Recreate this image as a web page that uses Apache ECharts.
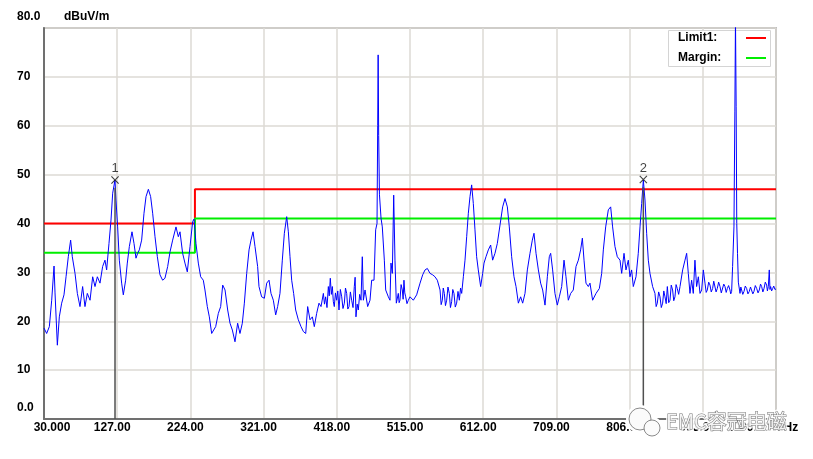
<!DOCTYPE html>
<html>
<head>
<meta charset="utf-8">
<script src="https://cdn.jsdelivr.net/npm/echarts@6/dist/echarts.min.js"></script>
<style>
html,body{margin:0;padding:0;background:#fff;}
#c{width:813px;height:459px;}
</style>
</head>
<body>
<div id="c"></div>
<script>
// ---- data ----
const xTickLabels = ['30.000','127.00','224.00','321.00','418.00','515.00','612.00','709.00','806.00','903.00','1000.00 MHz'];
const yTickLabels = ['0.0','10','20','30','40','50','60','70','80.0'];

const limitFreq = [30, 230, 230, 1000];
const limitLevel = [40, 40, 47, 47];
const marginLevel = [34, 34, 41, 41];
const legendNames = ['Limit1:', 'Margin:'];

const markerNames = ['1', '2'];
const markerFreq = [124.1, 824.2];
const markerLevel = [48.9, 49.0];

// measured trace: [frequency MHz, level dBuV/m]
const trace = [
[30.0,18.6],[33.5,17.5],[37.1,18.9],[40.2,24.3],[43.3,31.3],[44.6,25.8],[47.7,15.1],[50.3,20.9],[53.4,23.7],[56.5,25.4],
[59.2,29.1],[62.2,33.2],[65.3,36.6],[67.5,33.2],[71.1,29.8],[74.2,25.7],[77.7,23.0],[81.2,27.1],[84.3,23.0],[87.4,25.7],
[91.0,24.3],[94.5,29.1],[97.6,27.1],[100.7,29.1],[104.2,27.8],[107.7,31.2],[110.8,32.5],[113.0,30.5],[116.1,35.9],[118.8,40.7],
[121.0,46.2],[124.1,48.9],[125.4,44.8],[127.6,39.3],[129.8,32.5],[132.9,27.8],[135.1,25.4],[138.2,28.4],[140.4,31.9],[143.1,35.3],
[146.6,38.3],[149.3,35.9],[151.9,32.9],[154.1,33.9],[156.3,34.6],[159.4,36.6],[162.5,42.1],[165.2,45.5],[168.3,47.0],[171.3,45.5],
[174.0,42.1],[177.1,37.3],[180.2,33.2],[183.7,29.5],[187.2,28.4],[190.3,28.8],[193.9,31.2],[197.0,34.2],[200.5,36.6],[204.9,39.3],
[208.0,37.3],[210.2,38.3],[213.7,33.9],[216.8,31.9],[219.9,30.1],[223.5,35.3],[227.0,40.4],[228.8,40.9],[231.4,35.9],[234.5,31.9],
[237.6,29.1],[241.1,28.4],[243.3,26.4],[246.4,23.0],[249.1,20.9],[252.2,17.5],[254.4,17.2],[257.5,18.9],[261.0,21.6],[264.1,23.0],
[266.8,27.4],[269.9,26.4],[273.4,22.3],[276.5,19.6],[279.6,18.2],[283.1,15.8],[286.6,19.6],[289.7,17.5],[292.8,19.6],[295.5,23.7],
[298.6,29.8],[301.7,34.6],[304.3,36.6],[307.0,38.3],[309.6,35.3],[313.1,31.2],[314.9,27.1],[318.4,25.0],[322.0,24.7],[325.1,27.8],
[328.2,28.4],[330.8,25.7],[333.9,24.3],[337.0,21.3],[339.6,23.0],[342.7,25.7],[345.8,32.5],[348.5,38.0],[351.6,41.4],[353.8,38.3],
[356.0,33.2],[358.2,28.4],[360.8,25.7],[363.5,22.3],[367.0,20.3],[370.6,18.9],[373.7,17.9],[376.8,17.5],[379.4,23.0],[382.5,20.3],
[385.6,20.9],[388.2,18.9],[391.3,21.6],[394.4,23.7],[397.1,23.0],[400.2,25.7],[401.7,23.5],[403.2,25.0],[405.0,22.8],[406.8,27.1],
[408.0,25.2],[409.4,28.8],[410.8,25.5],[412.1,27.1],[413.4,24.0],[414.7,23.0],[416.2,25.8],[417.8,24.3],[419.3,26.2],[420.9,22.3],
[422.7,26.5],[424.5,25.0],[426.2,22.6],[428.0,23.7],[429.5,26.8],[431.1,25.7],[432.6,22.5],[434.2,23.0],[436.0,26.0],[437.7,24.3],
[439.5,22.8],[441.2,27.1],[442.3,29.0],[443.4,20.9],[445.0,23.5],[446.5,22.3],[448.3,25.5],[450.1,24.3],[451.8,33.2],[453.2,24.3],
[455.4,26.4],[458.9,23.0],[462.0,24.3],[464.2,28.4],[467.3,28.4],[469.5,38.7],[471.3,40.0],[472.2,60.0],[472.8,74.5],[473.5,58.0],
[474.5,46.0],[476.6,41.1],[478.3,39.3],[481.0,32.5],[482.8,26.4],[486.3,25.0],[488.5,24.3],[489.8,31.9],[491.6,29.8],[493.4,45.8],
[495.1,32.5],[496.9,23.7],[499.5,25.7],[500.6,23.8],[501.7,24.3],[503.2,27.5],[504.8,26.4],[505.9,24.5],[507.0,28.4],[508.1,25.8],
[509.3,25.0],[511.0,23.6],[512.8,24.3],[515.0,25.0],[519.4,24.3],[523.8,25.4],[528.3,27.8],[531.8,29.5],[534.9,30.5],[538.0,30.8],
[541.5,29.8],[545.0,29.5],[548.1,29.1],[551.2,28.4],[554.8,26.4],[556.3,23.4],[557.8,24.3],[559.1,26.8],[560.5,25.7],[562.0,23.2],
[563.6,24.3],[565.3,27.0],[567.1,25.7],[568.6,22.8],[570.2,24.0],[571.7,26.5],[573.3,25.7],[575.0,22.9],[576.8,23.7],[578.6,26.1],
[580.4,24.3],[582.0,26.8],[583.5,25.7],[585.7,29.1],[587.9,32.5],[590.1,37.3],[592.3,42.1],[594.5,45.5],[596.7,47.9],[598.9,44.1],
[601.1,38.7],[603.3,33.2],[605.5,30.5],[608.6,27.1],[611.3,29.8],[613.1,31.9],[615.7,33.2],[618.8,34.6],[621.9,35.6],[624.5,32.5],
[627.6,33.9],[630.7,35.9],[634.3,39.7],[637.8,43.4],[640.9,45.1],[644.0,43.4],[646.6,39.3],[649.7,33.2],[652.8,29.1],[655.5,27.1],
[658.6,23.7],[661.6,25.0],[664.3,23.7],[667.4,25.7],[670.5,30.5],[674.0,33.9],[677.1,36.6],[679.3,38.0],[682.0,33.9],[685.1,30.5],
[688.1,27.8],[690.8,26.4],[693.9,23.3],[697.0,29.1],[699.6,33.2],[701.4,33.9],[704.0,30.5],[707.1,25.7],[710.2,23.3],[712.9,25.0],
[716.0,27.1],[719.1,32.5],[721.7,29.1],[724.8,24.3],[727.9,25.7],[731.4,26.4],[735.0,31.2],[738.1,32.5],[741.1,34.6],[743.4,37.0],
[745.6,32.5],[748.2,27.8],[751.3,27.1],[753.5,27.8],[757.0,24.3],[761.5,25.7],[765.9,26.7],[769.0,29.8],[771.2,34.6],[774.3,39.3],
[777.8,42.8],[780.9,43.4],[783.5,39.3],[786.6,35.3],[789.7,33.2],[793.3,32.5],[795.5,29.8],[798.6,33.9],[801.2,30.5],[804.3,32.5],
[806.5,29.1],[808.7,30.5],[810.9,27.1],[814.5,29.1],[817.5,33.9],[819.8,39.3],[822.0,44.1],[824.2,48.9],[826.4,44.8],[828.6,38.0],
[830.8,32.5],[833.0,29.8],[836.5,27.1],[839.6,25.7],[841.2,23.0],[842.7,23.7],[844.5,26.0],[846.3,25.0],[848.0,22.8],[849.8,23.7],
[851.3,26.2],[852.9,25.0],[854.5,23.6],[856.0,27.1],[857.8,23.8],[859.5,24.3],[861.2,27.4],[863.0,26.4],[864.5,24.2],[866.1,25.0],
[867.6,27.5],[869.2,26.7],[871.0,25.5],[872.8,27.1],[876.3,30.5],[879.4,32.5],[881.6,33.9],[883.8,29.8],[886.0,25.7],[888.2,28.4],
[890.4,25.7],[892.6,32.5],[894.8,27.1],[897.1,29.1],[899.3,25.7],[901.5,26.4],[903.7,30.5],[905.9,27.8],[907.5,25.9],[909.0,26.4],
[910.8,28.0],[912.5,27.4],[914.2,26.0],[916.0,26.7],[917.5,28.2],[919.1,27.8],[920.6,26.0],[922.2,26.7],[924.0,28.0],[925.8,27.1],
[927.5,25.8],[929.3,26.1],[930.8,27.6],[932.4,27.1],[934.0,25.9],[935.5,26.7],[937.2,27.3],[939.0,26.4],[940.0,25.6],[941.2,26.1],
[942.5,31.2],[944.3,39.3],[945.5,63.0],[946.3,82.0],[947.2,64.0],[948.0,40.0],[949.0,33.9],[950.1,28.0],[952.3,25.7],[953.4,27.0],
[954.5,26.7],[956.0,25.5],[957.6,26.1],[959.3,27.2],[961.1,26.7],[962.8,25.6],[964.6,26.1],[966.2,27.0],[967.7,26.7],[969.3,25.6],
[970.8,26.1],[972.6,27.3],[974.4,26.7],[976.2,25.8],[977.9,26.4],[979.5,27.6],[981.0,27.1],[982.6,26.0],[984.1,26.7],[985.8,28.0],
[987.6,27.4],[988.6,26.2],[989.8,27.1],[991.1,30.5],[992.0,26.5],[992.9,27.1],[994.2,26.2],[995.6,26.7],[997.0,27.2],[998.6,26.5],
[1000.0,26.6]
];

// ---- chart ----
const FONT = '"Liberation Sans", Arial, sans-serif';
const chart = echarts.init(document.getElementById('c'), null, {renderer: 'canvas'});
const zip = (xs, ys) => xs.map((x, i) => [x, ys[i]]);
const RED = '#ff0000', GREEN = '#00ee00';

const series = [
  {name: legendNames[0], type: 'line', data: zip(limitFreq, limitLevel), symbol: 'none', z: 2,
   lineStyle: {color: RED, width: 2}, itemStyle: {color: RED}},
  {name: legendNames[1], type: 'line', data: zip(limitFreq, marginLevel), symbol: 'none', z: 2,
   lineStyle: {color: GREEN, width: 2}, itemStyle: {color: GREEN}},
  {name: 'Trace', type: 'line', data: trace, symbol: 'none', z: 4, clip: true,
   lineStyle: {color: '#0000ff', width: 1}, itemStyle: {color: '#0000ff'}}
];
markerFreq.forEach((f, i) => {
  series.push({name: 'mline' + i, type: 'line', data: [[f, 0], [f, markerLevel[i] - 1.6]],
    symbol: 'none', z: 5, lineStyle: {color: '#505050', width: 1.5}});
});
series.push({
  name: 'Markers', type: 'scatter', z: 6, data: zip(markerFreq, markerLevel),
  symbol: 'path://M0,1 L1,0 L5,4 L9,0 L10,1 L6,5 L10,9 L9,10 L5,6 L1,10 L0,9 L4,5 Z',
  symbolSize: 8, itemStyle: {color: '#111'},
  label: {show: true, position: 'top', distance: 1, formatter: p => markerNames[p.dataIndex],
    color: '#111', fontSize: 13, fontFamily: FONT}
});

const boldText = {fontFamily: FONT, fontSize: 12, fontWeight: 'bold', color: '#000'};
const LZ = 3;    // legend box: above grid lines, below the trace
const WZ = 100;  // watermark overlay
const WM_FONT = '20px "Noto Sans CJK SC", sans-serif';

chart.setOption({
  animation: false,
  backgroundColor: '#ffffff',
  grid: {left: 44, top: 28, right: 37, bottom: 40, show: true, borderColor: '#8c8c8c', borderWidth: 1.5, backgroundColor: 'transparent'},
  xAxis: {
    type: 'value', min: 30, max: 1000, interval: 97,
    axisLine: {show: true, lineStyle: {color: '#707070', width: 2}},
    axisTick: {show: false},
    splitLine: {show: true, lineStyle: {color: '#dcdad4', width: 1.5}},
    axisLabel: Object.assign({}, boldText, {
      margin: 3, showMinLabel: true, showMaxLabel: true, hideOverlap: false,
      formatter: v => {
        const idx = Math.round((v - 30) / 97);
        if (idx === 0) return '{first|' + xTickLabels[idx] + '}';
        if (idx === xTickLabels.length - 1) return '{last|' + xTickLabels[idx] + '}';
        return '{mid|' + xTickLabels[idx] + '}';
      },
      rich: {
        first: Object.assign({}, boldText, {padding: [0, 0, 0, 16]}),
        mid: Object.assign({}, boldText, {padding: [0, 10, 0, 0]}),
        last: Object.assign({}, boldText, {padding: [0, 27, 0, 0]})
      }
    })
  },
  yAxis: {
    type: 'value', min: 0, max: 80, interval: 10,
    name: 'dBuV/m', nameLocation: 'end', nameGap: 11,
    nameTextStyle: Object.assign({}, boldText, {align: 'left', verticalAlign: 'middle', padding: [0, 0, 0, 20]}),
    axisLine: {show: true, lineStyle: {color: '#707070', width: 2}},
    axisTick: {show: false},
    splitLine: {show: true, lineStyle: {color: '#dcdad4', width: 1.5}},
    axisLabel: Object.assign({}, boldText, {
      align: 'left', margin: 27, showMinLabel: true, showMaxLabel: true,
      formatter: v => {
        const idx = Math.round(v / 10);
        const t = yTickLabels[idx];
        if (idx === 0 || idx === yTickLabels.length - 1) return '{e|' + t + '}';
        return t;
      },
      rich: {e: Object.assign({}, boldText, {padding: [0, 0, 22, 0]})}
    })
  },
  graphic: {
    elements: [
      {type: 'rect', z: LZ, silent: true, shape: {x: 668.5, y: 30.5, width: 102, height: 36}, style: {fill: '#ffffff', stroke: '#d4d4d4', lineWidth: 1}},
      {type: 'text', z: LZ, silent: true, x: 678, y: 38, style: {text: legendNames[0], font: 'bold 12px ' + FONT, fill: '#000', verticalAlign: 'middle'}},
      {type: 'text', z: LZ, silent: true, x: 678, y: 58, style: {text: legendNames[1], font: 'bold 12px ' + FONT, fill: '#000', verticalAlign: 'middle'}},
      {type: 'line', z: LZ, silent: true, shape: {x1: 746, y1: 38, x2: 766, y2: 38}, style: {stroke: RED, lineWidth: 2}},
      {type: 'line', z: LZ, silent: true, shape: {x1: 746, y1: 58, x2: 766, y2: 58}, style: {stroke: GREEN, lineWidth: 2}},

      {type: 'circle', z: WZ, silent: true, shape: {cx: 640, cy: 419, r: 12}, style: {fill: '#ffffff', stroke: '#ffffff', lineWidth: 4}},
      {type: 'circle', z: WZ, silent: true, shape: {cx: 652, cy: 428, r: 9}, style: {fill: '#ffffff', stroke: '#ffffff', lineWidth: 4}},
      {type: 'circle', z: WZ + 1, silent: true, shape: {cx: 640, cy: 419, r: 11}, style: {fill: '#fbfbfb', stroke: 'rgba(110,110,110,0.8)', lineWidth: 1}},
      {type: 'circle', z: WZ + 1, silent: true, shape: {cx: 652, cy: 428, r: 8}, style: {fill: '#fbfbfb', stroke: 'rgba(110,110,110,0.8)', lineWidth: 1}},
      {type: 'text', z: WZ, silent: true, x: 666, y: 421, style: {text: 'EMC容冠电磁', font: WM_FONT, fill: '#ffffff', stroke: 'rgba(255,255,255,0.85)', lineWidth: 4, verticalAlign: 'middle', align: 'left'}},
      {type: 'text', z: WZ + 1, silent: true, x: 666, y: 421, style: {text: 'EMC容冠电磁', font: WM_FONT, fill: '#f4f4f4', stroke: 'rgba(100,100,100,0.9)', lineWidth: 1, verticalAlign: 'middle', align: 'left'}}
    ]
  },
  series: series
});
</script>
</body>
</html>
